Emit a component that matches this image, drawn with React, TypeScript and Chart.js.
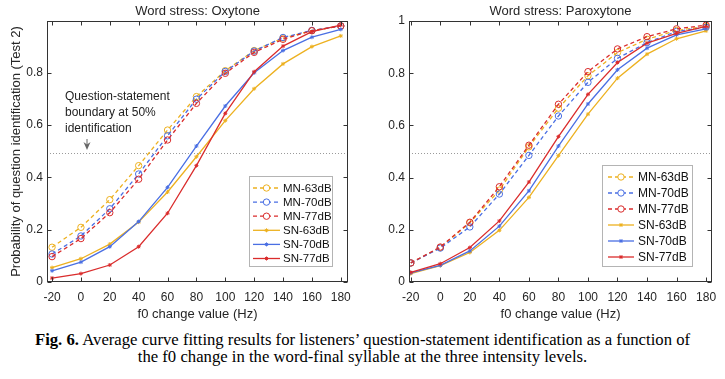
import React, { useEffect, useRef } from 'react';
import { Chart, registerables } from 'chart.js';

Chart.register(...registerables);

// ---------- data ----------
const f0Change = [-20, 0, 20, 40, 60, 80, 100, 120, 140, 160, 180];
const xTickValues = [-20, 0, 20, 40, 60, 80, 100, 120, 140, 160, 180];
const yTicksOxytone = [0, 0.2, 0.4, 0.6, 0.8];
const yTicksParoxytone = [0, 0.2, 0.4, 0.6, 0.8, 1];
const boundaryLevel = 0.495;

const seriesLabels = ['MN-63dB', 'MN-70dB', 'MN-77dB', 'SN-63dB', 'SN-70dB', 'SN-77dB'];

const oxyMN63 = [0.133, 0.209, 0.315, 0.445, 0.581, 0.709, 0.808, 0.885, 0.933, 0.961, 0.979];
const oxyMN70 = [0.107, 0.176, 0.28, 0.413, 0.559, 0.699, 0.805, 0.883, 0.935, 0.962, 0.979];
const oxyMN77 = [0.097, 0.166, 0.265, 0.393, 0.543, 0.683, 0.798, 0.878, 0.928, 0.961, 0.979];
const oxySN63 = [0.055, 0.089, 0.145, 0.229, 0.344, 0.479, 0.617, 0.739, 0.834, 0.9, 0.941];
const oxySN70 = [0.043, 0.076, 0.135, 0.231, 0.362, 0.52, 0.673, 0.8, 0.885, 0.936, 0.966];
const oxySN77 = [0.015, 0.032, 0.065, 0.135, 0.263, 0.445, 0.645, 0.804, 0.902, 0.957, 0.982];

const parMN63 = [0.073, 0.132, 0.227, 0.352, 0.518, 0.666, 0.79, 0.879, 0.93, 0.964, 0.979];
const parMN70 = [0.073, 0.13, 0.211, 0.337, 0.485, 0.636, 0.765, 0.857, 0.917, 0.96, 0.976];
const parMN77 = [0.073, 0.134, 0.229, 0.365, 0.524, 0.681, 0.806, 0.893, 0.94, 0.97, 0.984];
const parSN63 = [0.032, 0.063, 0.113, 0.198, 0.324, 0.484, 0.643, 0.781, 0.873, 0.932, 0.962];
const parSN70 = [0.035, 0.064, 0.119, 0.214, 0.349, 0.521, 0.682, 0.813, 0.896, 0.947, 0.97];
const parSN77 = [0.037, 0.07, 0.132, 0.234, 0.383, 0.557, 0.719, 0.841, 0.915, 0.953, 0.979];

const annotationLines = ['Question-statement', 'boundary at 50%', 'identification'];

// ---------- styles ----------
const YELLOW = '#EDB120';
const BLUE = '#4A6FE3';
const RED = '#DA2C2C';
const seriesColors = [YELLOW, BLUE, RED, YELLOW, BLUE, RED];
const FONT = 'Arial, "Liberation Sans", Helvetica, sans-serif';
const TEXT = '#262626';

function makeDatasets(values: number[][]) {
  return values.map((vals, i) => ({
    label: seriesLabels[i],
    data: f0Change.map((x, j) => ({ x, y: vals[j] })),
    borderColor: seriesColors[i],
    backgroundColor: seriesColors[i],
    borderWidth: 1.3,
    borderDash: i < 3 ? [4, 3] : [],
    pointStyle: i < 3 ? 'circle' : 'star',
    pointRadius: i < 3 ? 3.2 : 2,
    pointBorderWidth: 1,
    pointBackgroundColor: 'rgba(0,0,0,0)',
    pointBorderColor: seriesColors[i],
    tension: 0,
    fill: false,
    order: values.length - i,
  }));
}

function drawMarker(ctx: CanvasRenderingContext2D, style: string, x: number, y: number, r: number) {
  ctx.beginPath();
  if (style === 'circle') {
    ctx.arc(x, y, r, 0, Math.PI * 2);
  } else {
    ctx.moveTo(x - r, y); ctx.lineTo(x + r, y);
    ctx.moveTo(x, y - r); ctx.lineTo(x, y + r);
    const d = r * 0.707;
    ctx.moveTo(x - d, y - d); ctx.lineTo(x + d, y + d);
    ctx.moveTo(x - d, y + d); ctx.lineTo(x + d, y - d);
  }
  ctx.stroke();
}

const decorPlugin = {
  id: 'decor',
  beforeDatasetsDraw(chart: any, _args: any, opts: any) {
    const { ctx, chartArea: a, scales } = chart;
    const yy = Math.round(scales.y.getPixelForValue(opts.boundary)) + 0.5;
    ctx.save();
    ctx.strokeStyle = '#9a9a9a';
    ctx.lineWidth = 1;
    ctx.setLineDash([1, 2]);
    ctx.beginPath();
    ctx.moveTo(a.left, yy);
    ctx.lineTo(a.right, yy);
    ctx.stroke();
    ctx.restore();
  },
  afterDraw(chart: any, _args: any, opts: any) {
    const { ctx, chartArea: a, scales } = chart;
    ctx.save();
    // box
    ctx.strokeStyle = '#333';
    ctx.lineWidth = 1;
    ctx.setLineDash([]);
    const L = Math.round(a.left) + 0.5, R = Math.round(a.right) - 0.5;
    const T = Math.round(a.top) + 0.5, B = Math.round(a.bottom) - 0.5;
    ctx.strokeRect(L, T, R - L, B - T);
    // inward ticks
    const tl = 4;
    ctx.beginPath();
    scales.x.ticks.forEach((t: any) => {
      const px = Math.round(scales.x.getPixelForValue(t.value)) + 0.5;
      ctx.moveTo(px, B); ctx.lineTo(px, B - tl);
      ctx.moveTo(px, T); ctx.lineTo(px, T + tl);
    });
    scales.y.ticks.forEach((t: any) => {
      const py = Math.round(scales.y.getPixelForValue(t.value)) + 0.5;
      ctx.moveTo(L, py); ctx.lineTo(L + tl, py);
      ctx.moveTo(R, py); ctx.lineTo(R - tl, py);
    });
    ctx.stroke();

    // title
    ctx.fillStyle = TEXT;
    ctx.font = `13px ${FONT}`;
    ctx.textAlign = 'center';
    ctx.textBaseline = 'middle';
    ctx.fillText(opts.title, (a.left + a.right) / 2, 11.5);

    // annotation
    if (opts.annotation) {
      const an = opts.annotation;
      ctx.font = `12px ${FONT}`;
      ctx.textAlign = 'left';
      ctx.fillStyle = '#222';
      an.lines.forEach((s: string, i: number) => ctx.fillText(s, an.x, an.y + i * an.step));
      // arrow
      ctx.strokeStyle = '#666';
      ctx.fillStyle = '#666';
      ctx.lineWidth = 1;
      ctx.beginPath();
      ctx.moveTo(an.arrowX, an.arrowTop);
      ctx.lineTo(an.arrowX, an.arrowTip - 3);
      ctx.stroke();
      ctx.beginPath();
      ctx.moveTo(an.arrowX, an.arrowTip);
      ctx.lineTo(an.arrowX - 3.5, an.arrowTip - 8);
      ctx.lineTo(an.arrowX, an.arrowTip - 5.5);
      ctx.lineTo(an.arrowX + 3.5, an.arrowTip - 8);
      ctx.closePath();
      ctx.fill();
    }

    // legend
    const lg = opts.legend;
    ctx.fillStyle = '#fff';
    ctx.fillRect(lg.left, lg.top, lg.right - lg.left, lg.bottom - lg.top);
    ctx.strokeStyle = '#b4b4b4';
    ctx.lineWidth = 1;
    ctx.strokeRect(lg.left + 0.5, lg.top + 0.5, lg.right - lg.left - 1, lg.bottom - lg.top - 1);
    ctx.font = `${lg.fontSize}px ${FONT}`;
    ctx.textAlign = 'left';
    ctx.textBaseline = 'middle';
    chart.data.datasets.forEach((ds: any, i: number) => {
      const yy = lg.rowY0 + i * lg.rowStep;
      ctx.strokeStyle = ds.borderColor;
      ctx.lineWidth = ds.borderWidth;
      ctx.setLineDash(ds.borderDash);
      ctx.beginPath();
      ctx.moveTo(lg.lineX0, yy);
      ctx.lineTo(lg.lineX1, yy);
      ctx.stroke();
      ctx.setLineDash([]);
      ctx.lineWidth = 1;
      const mx = (lg.lineX0 + lg.lineX1) / 2;
      if (ds.pointStyle === 'circle') {
        ctx.fillStyle = '#fff';
        ctx.beginPath(); ctx.arc(mx, yy, ds.pointRadius, 0, Math.PI * 2); ctx.fill();
      }
      drawMarker(ctx, ds.pointStyle, mx, yy, ds.pointRadius);
      ctx.fillStyle = '#111';
      ctx.fillText(ds.label, lg.textX, yy + 0.5);
    });
    ctx.restore();
  },
};

function buildConfig(p: any) {
  return {
    type: 'line',
    data: { datasets: makeDatasets(p.values) },
    plugins: [decorPlugin],
    options: {
      responsive: false,
      animation: false,
      devicePixelRatio: 1,
      layout: { padding: { left: 0, right: p.padRight, top: 21, bottom: 0 } },
      plugins: {
        legend: { display: false },
        tooltip: { enabled: false },
        title: { display: false },
        decor: {
          title: p.title,
          boundary: boundaryLevel,
          annotation: p.annotation,
          legend: p.legend,
        },
      },
      scales: {
        x: {
          type: 'linear',
          min: p.xMin,
          max: p.xMax,
          afterBuildTicks: (s: any) => { s.ticks = xTickValues.map((v) => ({ value: v })); },
          afterFit: (s: any) => { s.height = 43; },
          grid: { display: false, drawTicks: false },
          border: { display: false },
          ticks: {
            color: TEXT,
            font: { family: FONT, size: 12 },
            padding: 8,
            maxRotation: 0,
            autoSkip: false,
            callback: (v: any) => String(v),
          },
          title: {
            display: true,
            text: 'f0 change value (Hz)',
            color: TEXT,
            font: { family: FONT, size: 13 },
            padding: { top: 0, bottom: 3 },
          },
        },
        y: {
          type: 'linear',
          min: 0,
          max: p.yMax,
          afterBuildTicks: (s: any) => { s.ticks = p.yTicks.map((v: number) => ({ value: v })); },
          afterFit: (s: any) => { s.width = 47; },
          grid: { display: false, drawTicks: false },
          border: { display: false },
          ticks: {
            color: TEXT,
            font: { family: FONT, size: 12 },
            padding: 4,
            autoSkip: false,
            callback: (v: any) => String(v),
          },
          title: {
            display: !!p.yTitle,
            text: p.yTitle || '',
            color: TEXT,
            font: { family: FONT, size: 13 },
            padding: { top: 9, bottom: 0 },
          },
        },
      },
    },
  };
}

const panels = [
  {
    key: 'oxy',
    left: 0,
    width: 362,
    padRight: 14,
    title: 'Word stress: Oxytone',
    yTitle: 'Probability of question identification (Test 2)',
    xMin: -23.5,
    xMax: 185,
    yMax: 0.998,
    yTicks: yTicksOxytone,
    values: [oxyMN63, oxyMN70, oxyMN77, oxySN63, oxySN70, oxySN77],
    annotation: { lines: annotationLines, x: 65, y: 97, step: 16, arrowX: 87, arrowTop: 139, arrowTip: 150 },
    legend: { left: 249, top: 176, right: 333, bottom: 267, rowY0: 188, rowStep: 14.1, lineX0: 253, lineX1: 280, textX: 283, fontSize: 11.5 },
  },
  {
    key: 'par',
    left: 362,
    width: 363,
    padRight: 13,
    title: 'Word stress: Paroxytone',
    yTitle: '',
    xMin: -21.2,
    xMax: 184,
    yMax: 1,
    yTicks: yTicksParoxytone,
    values: [parMN63, parMN70, parMN77, parSN63, parSN70, parSN77],
    annotation: null,
    legend: { left: 240, top: 165, right: 331, bottom: 267, rowY0: 177, rowStep: 16, lineX0: 246, lineX1: 272, textX: 276, fontSize: 12 },
  },
];

function Panel({ p }: { p: any }) {
  const ref = useRef<HTMLCanvasElement>(null);
  useEffect(() => {
    if (!ref.current) return;
    const chart = new Chart(ref.current, buildConfig(p) as any);
    return () => chart.destroy();
  }, []);
  return (
    <canvas
      ref={ref}
      width={p.width}
      height={325}
      style={{ position: 'absolute', left: p.left, top: 0, width: p.width, height: 325 }}
    />
  );
}

export default function App() {
  return (
    <div style={{ position: 'absolute', left: 0, top: 0, width: 725, height: 379, background: '#fff', overflow: 'hidden' }}>
      {panels.map((p) => (
        <Panel key={p.key} p={p} />
      ))}
      <div
        style={{
          position: 'absolute',
          left: 0,
          top: 331,
          width: 725,
          textAlign: 'center',
          fontFamily: '"Liberation Serif", "Times New Roman", serif',
          fontSize: 16.7,
          lineHeight: '17px',
          color: '#000',
          whiteSpace: 'nowrap',
        }}
      >
        <b>Fig. 6.</b> Average curve fitting results for listeners’ question-statement identification as a function of
        <br />
        the f0 change in the word-final syllable at the three intensity levels.
      </div>
    </div>
  );
}
